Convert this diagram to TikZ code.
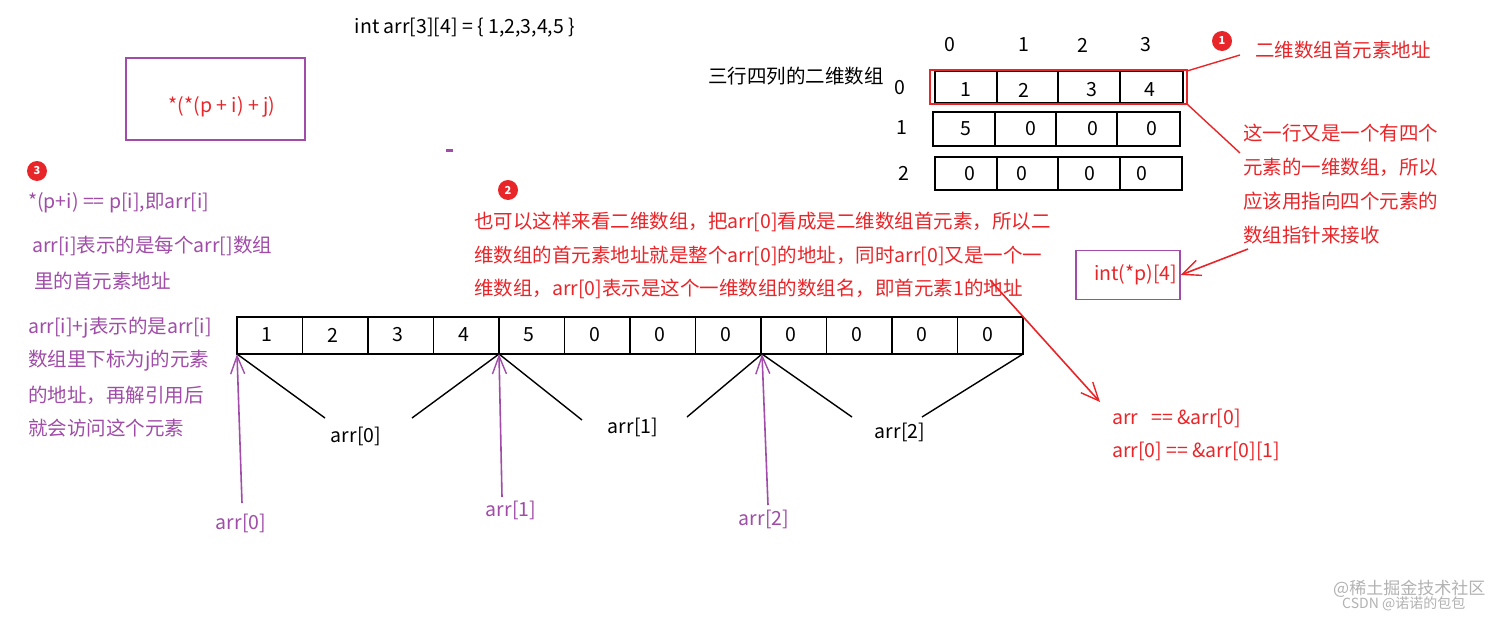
\documentclass[tikz,border=0pt]{standalone}
\usepackage{fontspec}
\setmainfont{Noto Sans CJK SC}
\usetikzlibrary{arrows.meta}
\definecolor{rd}{HTML}{E8262A}
\definecolor{pu}{HTML}{A04CA8}
\begin{document}
\begin{tikzpicture}[x=1pt,y=-1pt,
  every node/.style={font=\fontsize{19.5}{22}\selectfont, inner sep=0pt},
  lt/.style={anchor=west},
  rt/.style={lt,text=rd},
  pt/.style={lt,text=pu},
  badge/.style={circle,fill=rd,text=white,minimum size=20pt,font=\fontsize{11}{12}\selectfont\bfseries},
  cell/.style={draw,line width=1.4pt},
  parr/.style={pu,line width=1.6pt,-{Straight Barb[length=18pt,width=14pt,line width=1.4pt]}},
  rarr/.style={rd,line width=1.6pt,-{Straight Barb[length=18pt,width=16pt,line width=1.4pt]}}]
\useasboundingbox (0,0) rectangle (1512,618);
\fill[white] (0,0) rectangle (1512,618);
\node (title) at (465,28) {int arr[3][4] = \{ 1,2,3,4,5 \}};
\draw[pu,line width=1.4pt] (126,58) rectangle (305,140);
\node[text=rd] (expr) at (222,107) {*(*(p + i) + j)};
\fill[pu] (446,149) rectangle (453,152);
% left notes
\node[badge] (b3) at (37,171) {3};
\node[pt] (n1) at (28,203) {*(p+i) == p[i],即arr[i]};
\node[pt] (n2) at (32,246) {arr[i]表示的是每个arr[]数组};
\node[pt] (n3) at (34,281) {里的首元素地址};
\node[pt] (n4) at (28,328) {arr[i]+j表示的是arr[i]};
\node[pt] (n5) at (28,361) {数组里下标为j的元素};
\node[pt] (n6) at (28,395) {的地址，再解引用后};
\node[pt] (n7) at (28,428) {就会访问这个元素};
% middle red note
\node[badge] (b2) at (508,190) {2};
\node[rt] (m1) at (474,222) {也可以这样来看二维数组，把arr[0]看成是二维数组首元素，所以二};
\node[rt] (m2) at (474,256) {维数组的首元素地址就是整个arr[0]的地址，同时arr[0]又是一个一};
\node[rt] (m3) at (474,289) {维数组，arr[0]表示是这个一维数组的数组名，即首元素1的地址};
% 2D array
\node[lt] (lab) at (708,76) {三行四列的二维数组};
\foreach \x/\t in {950/0,1024/1,1083/2,1146/3} \node at (\x,45) {\t};
\foreach \x/\y/\t in {900/88/0,902/128/1,904/173/2} \node at (\x,\y) {\t};
\foreach \y/\a/\b/\c/\d/\e/\f in {71/103/935/997/1058/1120/1183,112/146/933/995/1056/1117/1180,157/190/935/997/1058/1120/1182}{
  \draw[cell] (\b,\y) rectangle (\f,\a);
  \draw[cell] (\c,\y) -- (\c,\a) (\d,\y) -- (\d,\a) (\e,\y) -- (\e,\a);
}
\foreach \x/\t in {966/1,1024/2,1092/3,1150/4} \node at (\x,90) {\t};
\foreach \x/\t in {966/5,1031/0,1093/0,1152/0} \node at (\x,129) {\t};
\foreach \x/\t in {970/0,1022/0,1090/0,1142/0} \node at (\x,174) {\t};
\draw[rd,line width=1.6pt] (930,70) rectangle (1187,104);
\coordinate (r0ne) at (1187,71);
\coordinate (r0se) at (1187,104);
\node[badge] (b1) at (1222,41) {1};
\node[rt] (t1) at (1255,50) {二维数组首元素地址};
\draw[rd,line width=1.4pt] (r0ne) -- (1240,55);
\draw[rd,line width=1.4pt] (r0se) -- (1240,153);
\node[rt] (t2) at (1243,133) {这一行又是一个有四个};
\node[rt] (t3) at (1243,167) {元素的一维数组，所以};
\node[rt] (t4) at (1243,201) {应该用指向四个元素的};
\node[rt] (t5) at (1243,235) {数组指针来接收};
\node[draw=pu,line width=1.4pt,minimum width=104pt,minimum height=49pt,text=rd,align=right,text width=98pt] (ptr) at (1128,275) {int(*p)[4]};
\coordinate (pa) at (1248,249);
\draw[rarr] (pa) -- (ptr.east);
% flat array
\foreach \i/\t in {0/1,1/2,2/3,3/4,4/5,5/0,6/0,7/0,8/0,9/0,10/0,11/0}{
  \draw[cell] ({237+\i*65.5},317) rectangle ({237+(\i+1)*65.5},354);
  \node at ({237+\i*65.5+30},335) {\t};
}
\coordinate (a0) at (237,354);
\coordinate (a1) at (499,354);
\coordinate (a2) at (762,354);
\coordinate (a3) at (1023,354);
\node (L0) at (356,436) {arr[0]};
\node (L1) at (633,427) {arr[1]};
\node (L2) at (900,432) {arr[2]};
\draw[line width=1.4pt] (a0) -- (325,418) (412,418) -- (a1) -- (582,420) (687,417) -- (a2) -- (852,417) (922,417) -- (a3);
\node[text=pu] (P0) at (241,523) {arr[0]};
\node[text=pu] (P1) at (511,510) {arr[1]};
\node[text=pu] (P2) at (764,519) {arr[2]};
\draw[parr] (242,503) -- (a0);
\draw[parr] (502,497) -- (a1);
\draw[parr] (768,505) -- (a2);
\coordinate (rs) at (990,280);
\draw[rarr] (rs) -- (1100,402);
\node[rt] (e1) at (1112,418) {arr~~ == \&arr[0]};
\node[rt] (e2) at (1112,451) {arr[0] == \&arr[0][1]};
\node[lt,text=gray!60,font=\fontsize{17}{18}\selectfont] (w1) at (1333,589) {@稀土掘金技术社区};
\node[lt,text=gray!60,font=\fontsize{14}{15}\selectfont] (w2) at (1342,604) {CSDN @诺诺的包包};
\end{tikzpicture}
\end{document}
